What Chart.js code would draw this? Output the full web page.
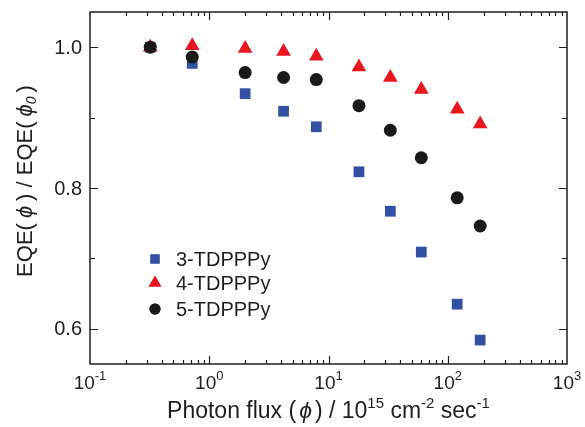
<!DOCTYPE html>
<html>
<head>
<meta charset="utf-8">
<script src="https://cdn.jsdelivr.net/npm/chart.js@4/dist/chart.umd.min.js"></script>
<style>
  html, body { margin: 0; padding: 0; background: #fff; }
  #wrap { width: 585px; height: 427px; }
</style>
</head>
<body>
<div id="wrap"><canvas id="myChart" width="585" height="427"></canvas></div>
<script>
// photon flux (10^15 cm^-2 sec^-1)
const flux = [0.32, 0.72, 2.0, 4.2, 7.9, 18, 33, 60, 120, 187];
// normalised EQE
const eqe3 = [1.0, 0.977, 0.934, 0.909, 0.887, 0.823, 0.767, 0.709, 0.635, 0.584];
const eqe4 = [1.0, 1.002, 0.998, 0.994, 0.987, 0.972, 0.957, 0.940, 0.912, 0.891];
const eqe5 = [1.0, 0.986, 0.964, 0.957, 0.954, 0.917, 0.882, 0.843, 0.786, 0.746];

const seriesNames = ['3-TDPPPy', '4-TDPPPy', '5-TDPPPy'];
const xTickExps = [-1, 0, 1, 2, 3];
const yMajorTicks = [0.6, 0.8, 1.0];
const yMinorTicks = [0.7, 0.9];

const FONT = '"Liberation Sans", Arial, Helvetica, sans-serif';
const INK = '#1e1e1e';

const pts = (ys) => flux.map((x, i) => ({ x: x, y: ys[i] }));

// draws a run of text pieces: [text, size, italic, dy, gapAfter]
function drawRich(ctx, parts, x, y, align) {
  let total = 0;
  parts.forEach(p => {
    ctx.font = (p[2] ? 'italic ' : '') + p[1] + 'px ' + FONT;
    total += ctx.measureText(p[0]).width + (p[4] || 0);
  });
  let cx = align === 'center' ? x - total / 2 : x;
  ctx.textAlign = 'left';
  ctx.textBaseline = 'alphabetic';
  parts.forEach(p => {
    ctx.font = (p[2] ? 'italic ' : '') + p[1] + 'px ' + FONT;
    ctx.fillText(p[0], cx, y + (p[3] || 0));
    cx += ctx.measureText(p[0]).width + (p[4] || 0);
  });
}

const framePlugin = {
  id: 'frame',
  afterDatasetsDraw(chart) {
    const ctx = chart.ctx;
    const a = chart.chartArea;
    const xs = chart.scales.x, ys = chart.scales.y;
    ctx.save();
    ctx.strokeStyle = INK;
    ctx.fillStyle = INK;
    ctx.lineWidth = 1.5;
    ctx.strokeRect(a.left, a.top, a.right - a.left, a.bottom - a.top);

    // x ticks (inward, top and bottom)
    ctx.lineWidth = 1.2;
    ctx.beginPath();
    for (let e = -1; e <= 2; e++) {
      for (let m = 1; m <= 9; m++) {
        const v = m * Math.pow(10, e);
        const px = Math.round(xs.getPixelForValue(v)) + 0.5;
        const len = m === 1 ? 8 : 4;
        if (m === 1 && e === -1) continue;
        ctx.moveTo(px, a.bottom); ctx.lineTo(px, a.bottom - len);
        ctx.moveTo(px, a.top); ctx.lineTo(px, a.top + len);
      }
    }
    // y ticks (inward, left and right)
    yMajorTicks.concat(yMinorTicks).forEach(v => {
      const py = Math.round(ys.getPixelForValue(v)) + 0.5;
      const len = yMajorTicks.includes(v) ? 8 : 5;
      ctx.moveTo(a.left, py); ctx.lineTo(a.left + len, py);
      ctx.moveTo(a.right, py); ctx.lineTo(a.right - len, py);
    });
    ctx.stroke();

    // y tick labels
    ctx.font = '20px ' + FONT;
    ctx.textAlign = 'right';
    ctx.textBaseline = 'middle';
    yMajorTicks.forEach(v => {
      ctx.fillText(v.toFixed(1), a.left - 8, ys.getPixelForValue(v) + 1);
    });

    // x tick labels 10^n
    xTickExps.forEach(e => {
      const px = xs.getPixelForValue(Math.pow(10, e));
      drawRich(ctx, [['10', 19, false, 0], [String(e), 13, false, -9]], px, a.bottom + 25, 'center');
    });

    // x title
    drawRich(ctx, [
      ['Photon flux (', 23, false, 0, 3], ['\u03d5', 23, true, 0, 3], [') / 10', 23, false, 0],
      ['15', 15, false, -10], [' cm', 23, false, 0], ['-2', 15, false, -10],
      [' sec', 23, false, 0], ['-1', 15, false, -10]
    ], (a.left + a.right) / 2, 418, 'center');

    // y title
    ctx.save();
    ctx.translate(32, 181);
    ctx.rotate(-Math.PI / 2);
    drawRich(ctx, [
      ['EQE(', 22, false, 0, 5], ['\u03d5', 22, true, 0, 5], [') / EQE(', 22, false, 0, 5],
      ['\u03d5', 22, true, 0], ['0', 14, true, 4, 4], [')', 22, false, 0]
    ], 0, 0, 'center');
    ctx.restore();

    // legend inside plot
    const ds = chart.data.datasets;
    const lx = 155, ly = [259, 283, 309];
    ctx.font = '20px ' + FONT;
    ctx.textAlign = 'left';
    ctx.textBaseline = 'middle';
    seriesNames.forEach((name, i) => {
      const d = ds.find(s => s.label === name);
      ctx.fillStyle = d.backgroundColor;
      Chart.helpers.drawPoint(ctx, { pointStyle: d.pointStyle, radius: d.pointRadius * 0.85, rotation: 0, borderWidth: 0 }, lx, ly[i]);
      ctx.fill();
      ctx.fillStyle = INK;
      ctx.fillText(name, 176, ly[i] + 1);
    });
    ctx.restore();
  }
};

const ctx = document.getElementById('myChart').getContext('2d');
const myChart = new Chart(ctx, {
  type: 'scatter',
  data: {
    datasets: [
      { label: seriesNames[0], data: pts(eqe3), pointStyle: 'rect', pointRadius: 7.6,
        backgroundColor: '#3450a2', borderWidth: 0, order: 3 },
      { label: seriesNames[1], data: pts(eqe4), pointStyle: 'triangle', pointRadius: 8.5,
        backgroundColor: '#e8161e', borderWidth: 0, order: 2 },
      { label: seriesNames[2], data: pts(eqe5), pointStyle: 'circle', pointRadius: 6.5,
        backgroundColor: '#1a1a1a', borderWidth: 0, order: 1 }
    ]
  },
  options: {
    responsive: false,
    animation: false,
    layout: { padding: { left: 90, right: 18, top: 12, bottom: 63 } },
    plugins: { legend: { display: false }, tooltip: { enabled: false } },
    scales: {
      x: { type: 'logarithmic', min: 0.1, max: 1000, display: false },
      y: { type: 'linear', min: 0.55, max: 1.05, display: false }
    }
  },
  plugins: [framePlugin]
});
</script>
</body>
</html>
